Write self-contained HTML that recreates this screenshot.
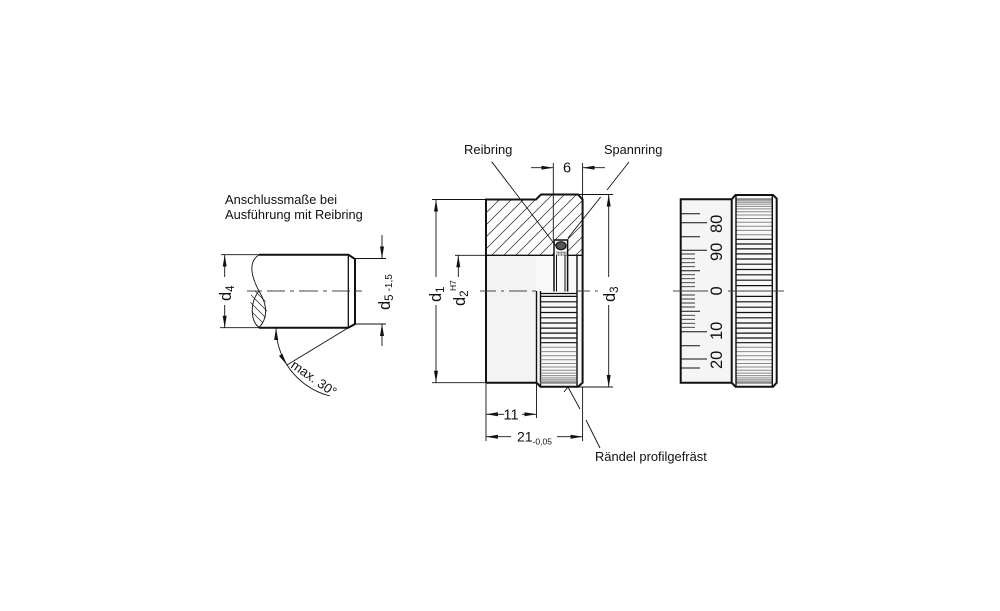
<!DOCTYPE html>
<html><head><meta charset="utf-8"><style>
html,body{margin:0;padding:0;background:#fff}
svg{display:block}
text{font-family:"Liberation Sans",sans-serif;fill:#111}
</style></head><body>
<svg width="1000" height="611" viewBox="0 0 1000 611" xmlns="http://www.w3.org/2000/svg">
<defs>
<marker id="a" viewBox="0 0 12 6" refX="12" refY="3" markerWidth="12" markerHeight="6" markerUnits="userSpaceOnUse" orient="auto-start-reverse"><path d="M0 1L12 3L0 5Z" fill="#111"/></marker>
<clipPath id="hc"><path d="M486 199.5H536L541 194.5H578L582.6 199.5V255.3H486Z"/></clipPath>
<clipPath id="lc"><path d="M252 291C248 302 252 320 259 327C268 318 272 306 259 291Z"/></clipPath>
<path id="kl" d="M0 296.4H36M0 301.8H36M0 307.2H36M0 312.5H36M0 317.8H36M0 323H36M0 328.1H36M0 333.1H36M0 338H36M0 342.7H36" stroke="#111" stroke-width="1.2" fill="none"/>
<path id="kg" d="M0 347.2H36M0 351.6H36M0 355.8H36M0 359.8H36M0 363.5H36M0 367H36M0 370.2H36M0 373.1H36M0 375.6H36M0 377.9H36M0 379.8H36M0 381.3H36M0 382.5H36M0 383.3H36" stroke="#888" stroke-width="1" fill="none"/>
</defs>

<!-- left pin -->
<text x="225" y="204" font-size="12.85">Anschlussmaße bei</text>
<text x="225" y="219" font-size="12.85">Ausführung mit Reibring</text>
<g fill="none" stroke="#111">
<path d="M259 254.7H348.3L355 259V324L348.3 327.7H259" stroke-width="2"/>
<path d="M348.3 254.7V327.7" stroke-width="1.3"/>
<path d="M259 254.7C248 262 251 276 259 291C268 306 268 318 259 327.7C250 320 250 302 259 291" stroke-width=".9"/>
<g clip-path="url(#lc)" stroke-width=".7" stroke="#222">
<path d="M240 300L280 340M240 292L280 332M240 284L280 324M240 276L280 316M240 268L280 308M240 308L280 348M240 316L280 356"/>
</g>
<path d="M221 254.7H259M220 327.7H259M355 258.5H386M355 324H386" stroke-width=".9"/>
<path d="M224.7 254.7V277" stroke-width=".9" marker-start="url(#a)"/>
<path d="M224.7 305V327.7" stroke-width=".9" marker-end="url(#a)"/>
<path d="M382 235V258.5" stroke-width=".9" marker-end="url(#a)"/>
<path d="M382 324V346" stroke-width=".9" marker-start="url(#a)"/>
<path d="M247 291H262M267 291H285M290 291H294M299 291H318M323 291H327M332 291H350M355 291H362" stroke="#444" stroke-width=".9"/>
<path d="M348.3 327.7L287 365" stroke-width=".9"/>
<path d="M276 328A72 72 0 0 0 287 365" stroke-width=".9" marker-start="url(#a)" marker-end="url(#a)"/>
<path d="M287 365A72 72 0 0 0 330 396" stroke-width=".9"/>
</g>
<text transform="translate(231 301) rotate(-90)" font-size="16.5">d<tspan font-size="11.5" dy="3">4</tspan></text>
<text transform="translate(390 310) rotate(-90)" font-size="16.5">d<tspan font-size="11.5" dy="3">5</tspan><tspan font-size="10" dx="3" dy="-1">-1,5</tspan></text>
<text transform="translate(290 367) rotate(35)" font-size="13.2">max. 30°</text>

<!-- main part -->
<rect x="486" y="255" width="50.5" height="127.7" fill="#f3f3f3"/>
<rect x="536.5" y="255" width="46" height="131" fill="#f8f8f8"/>
<g clip-path="url(#hc)" stroke="#222" stroke-width=".7" fill="none">
<path d="M431 256L493 194M443 256L505 194M455 256L517 194M467 256L529 194M479 256L541 194M491 256L553 194M503 256L565 194M515 256L577 194M527 256L589 194M539 256L601 194M551 256L613 194M563 256L625 194M575 256L637 194"/>
</g>
<rect x="554" y="240" width="14" height="52" fill="#f8f8f8"/>
<g fill="none" stroke="#111">
<path d="M486 382.7V199.5H536L541 194.5H578L582.6 199.5V382.7L578 386.7H540.5L536.5 382.7H486" stroke-width="2"/>
<path d="M486 255.3H554M568 255.3H582.6" stroke-width="1.4"/>
<path d="M577 255.3V386.7M536.5 291V382.7M540.5 291V386.7" stroke-width="1.4"/>
<path d="M554 240H567.6V291.5M554 240V291.5" stroke-width="1.5"/>
<path d="M556.5 255V291.5M565 255V291.5" stroke-width="1"/>
<path d="M540.5 293.5H577" stroke-width="1.3"/>
<path d="M557 252V256M558.5 252V256M560 252V256M561.5 252V256M563 252V256M564.5 252V256M566 252V256M556 252H566" stroke="#555" stroke-width=".6"/>
<ellipse cx="561" cy="245.7" rx="5" ry="4" fill="#555" stroke="#111" stroke-width="1.2"/>
</g>
<use href="#kl" x="540.5"/>
<use href="#kg" x="540.5"/>
<g fill="none" stroke="#111" stroke-width=".9">
<path d="M432 199.5H486M432 382.7H486M455 255.3H486M541 194.5H613M578 387H613"/>
<path d="M436 199.5V277" marker-start="url(#a)"/>
<path d="M436 305V382.7" marker-end="url(#a)"/>
<path d="M458.3 255.3V277" marker-start="url(#a)"/>
<path d="M608.7 194.5V277" marker-start="url(#a)"/>
<path d="M608.7 305V387" marker-end="url(#a)"/>
<path d="M553.3 163V240M582.6 163V200"/>
<path d="M531 167.7H553.3" marker-end="url(#a)"/>
<path d="M582.6 167.7H605" marker-start="url(#a)"/>
<path d="M491.7 161.7L556 246M629 162L607 190M600.7 197L568 238"/>
<path d="M486 382.7V441M536.5 382.7V418M582.6 387V441"/>
<path d="M486 414.3H504" marker-start="url(#a)"/>
<path d="M522 414.3H536.5" marker-end="url(#a)"/>
<path d="M486 436.7H511" marker-start="url(#a)"/>
<path d="M557 436.7H582.6" marker-end="url(#a)"/>
<path d="M564 392L568 387L580 409M586 420L600 448"/>
<path d="M480 291H496M501 291H504M509 291H527M532 291H536M576 291H590M595 291H598" stroke="#444"/>
</g>
<text x="464" y="154" font-size="13">Reibring</text>
<text x="604" y="154" font-size="12.8">Spannring</text>
<text x="567" y="172.5" font-size="14.5" text-anchor="middle">6</text>
<text x="511" y="419.5" font-size="14.5" text-anchor="middle">11</text>
<text x="517" y="441.5" font-size="14">21<tspan font-size="8.5" dy="3">-0,05</tspan></text>
<text x="595" y="461" font-size="12.9">Rändel profilgefräst</text>
<text transform="translate(441 302) rotate(-90)" font-size="16.5">d<tspan font-size="11.5" dy="3">1</tspan></text>
<text transform="translate(465 306) rotate(-90)" font-size="16.5">d<tspan font-size="11.5" dy="3">2</tspan></text>
<text transform="translate(456 291) rotate(-90)" font-size="8.5">H7</text>
<text transform="translate(615 302) rotate(-90)" font-size="16.5">d<tspan font-size="11.5" dy="3">3</tspan></text>

<!-- right view -->
<rect x="680.7" y="199.3" width="51" height="183.4" fill="#f5f5f5"/>
<rect x="731.7" y="195" width="45" height="191.7" fill="#f8f8f8"/>
<use href="#kl" x="736"/>
<use href="#kg" x="736"/>
<g transform="matrix(1 0 0 -1 736 582)">
<use href="#kl"/>
<use href="#kg"/>
</g>
<g fill="none" stroke="#111">
<path d="M731.7 199.3H680.7V382.7H731.7" stroke-width="2"/>
<path d="M731.7 199.3L735.5 195H773L776.7 198.5V382.7L773 386.7H735.5L731.7 382.7Z" stroke-width="2"/>
<path d="M736 195V386.7M772.3 195V386.7" stroke-width="1.4"/>
<path d="M681 213.7H700M681 222.7H707M681 236.7H700M681 250.3H707M681 270.7H700M681 311.3H700M681 331.7H707M681 345.7H700M681 359H707M681 368H700" stroke="#111" stroke-width="1"/>
<path d="M681 254H695M681 258.7H695M681 262.7H695M681 266.7H695M681 274.7H695M681 278.7H695M681 282.7H695M681 286.7H695M681 295H695M681 299H695M681 303H695M681 307H695M681 315.3H695M681 319.3H695M681 323.3H695M681 327.3H695" stroke="#333" stroke-width=".9"/>
<path d="M673 291H708M728 291H784" stroke="#444" stroke-width=".9"/>
</g>
<g font-size="16.5">
<text transform="translate(722 233) rotate(-90)">80</text>
<text transform="translate(722 261) rotate(-90)">90</text>
<text transform="translate(722 295.5) rotate(-90)">0</text>
<text transform="translate(722 340) rotate(-90)">10</text>
<text transform="translate(722 369) rotate(-90)">20</text>
</g>
</svg>
</body></html>
